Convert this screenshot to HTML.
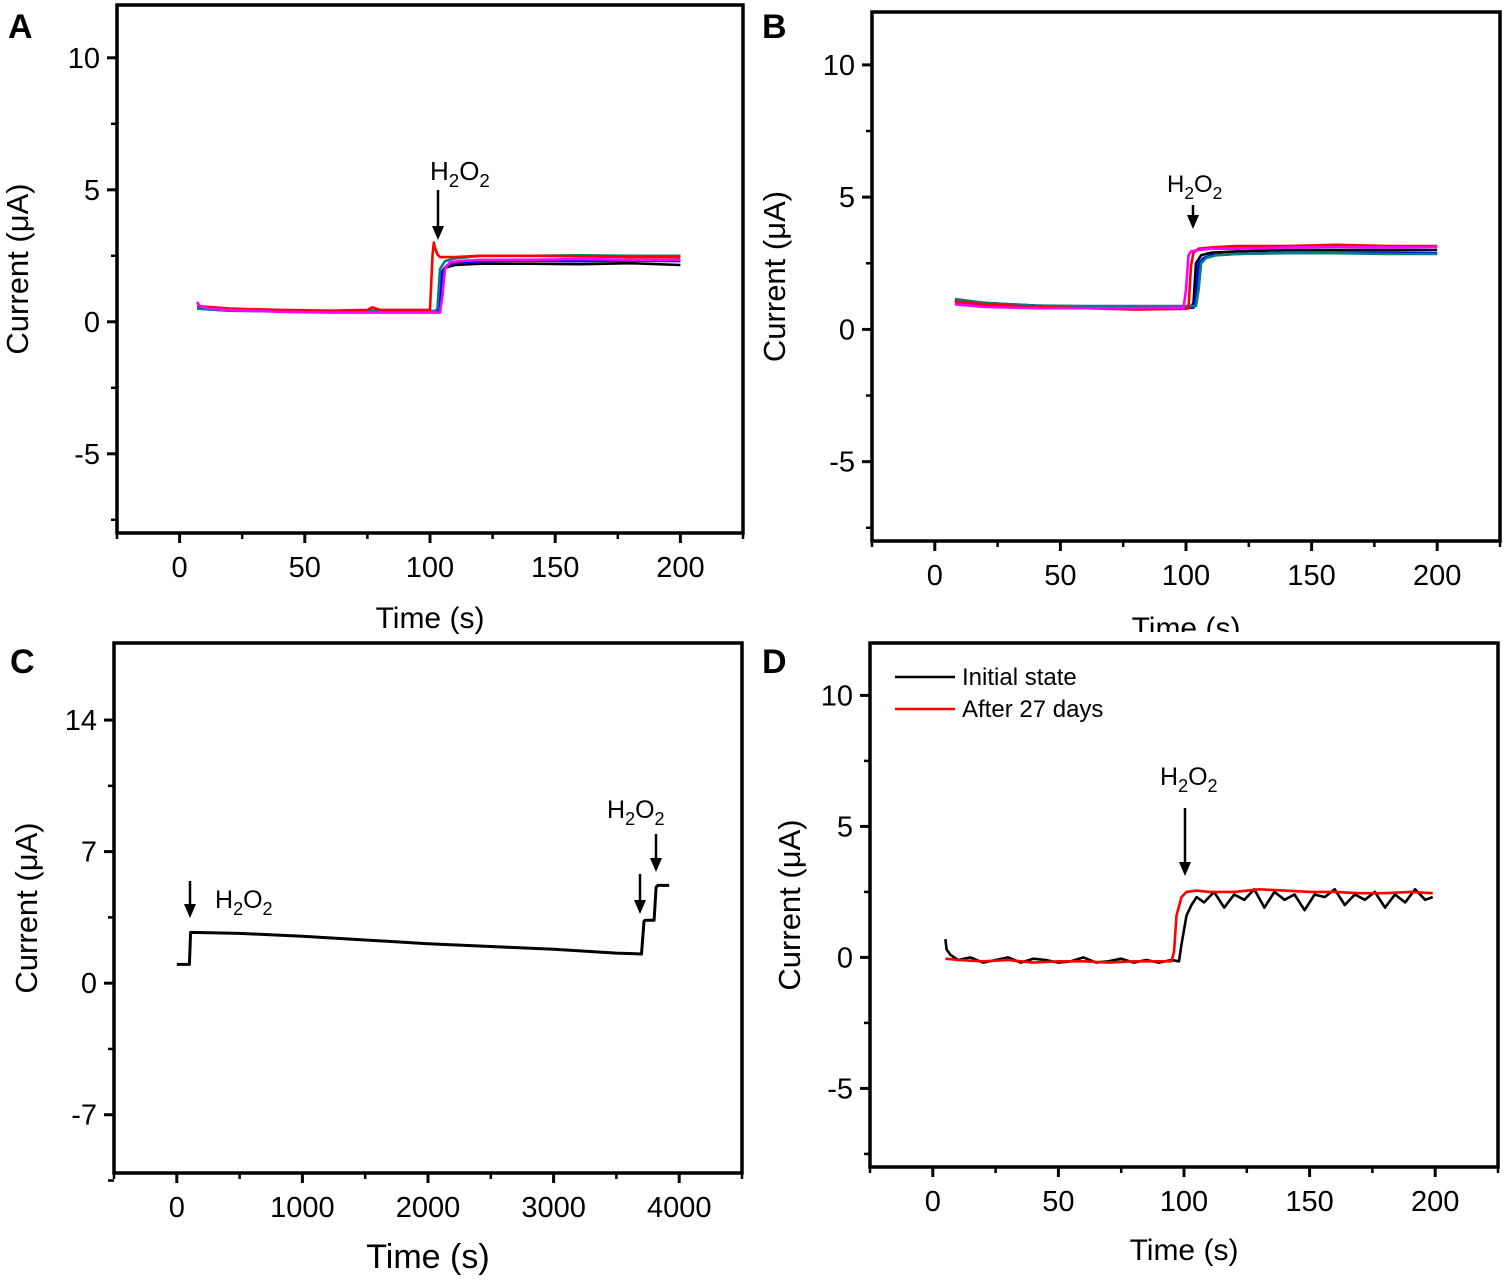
<!DOCTYPE html>
<html><head><meta charset="utf-8"><style>
body{margin:0;background:#fff}
svg{display:block;font-family:"Liberation Sans",Arial,sans-serif}
</style></head><body>
<svg id="fig" width="1505" height="1280" viewBox="0 0 1505 1280"></svg>
<script>
// ---------- data ----------
const aBlackT=[7,20,40,60,80,100,102,103,104,106,110,120,140,160,180,200];
const aBlackV=[0.55,0.45,0.42,0.4,0.42,0.4,0.4,0.45,1.8,2.05,2.15,2.2,2.2,2.18,2.22,2.15];
const aRedT=[7,20,40,60,75,77,80,100,101,101.5,102,103,104,106,110,120,140,160,180,200];
const aRedV=[0.6,0.5,0.45,0.42,0.45,0.55,0.45,0.45,2.5,3.0,2.8,2.55,2.45,2.45,2.45,2.5,2.5,2.48,2.45,2.45];
const aBlueT=[7,20,40,60,80,100,103,104,105,107,110,120,140,160,180,200];
const aBlueV=[0.5,0.42,0.4,0.4,0.38,0.38,0.38,0.45,1.9,2.15,2.25,2.3,2.32,2.3,2.32,2.3];
const aTealT=[7,20,40,60,80,100,102,103,104,106,110,120,140,160,180,200];
const aTealV=[0.5,0.42,0.4,0.4,0.4,0.4,0.4,0.5,2.0,2.3,2.4,2.5,2.5,2.52,2.5,2.5];
const aMagT=[7,8,12,20,40,60,80,100,104,105,106,108,112,120,140,160,180,200];
const aMagV=[0.75,0.6,0.5,0.45,0.38,0.35,0.35,0.35,0.35,1.0,2.0,2.25,2.3,2.35,2.35,2.38,2.35,2.35];
const bBlackT=[8,20,40,60,80,100,102,103,104,106,110,120,140,160,180,200];
const bBlackV=[1.1,1.0,0.9,0.85,0.85,0.85,0.85,1.0,2.5,2.8,2.9,2.95,3.0,3.0,3.0,3.0];
const bRedT=[8,20,40,60,80,100,101,102,103,105,110,120,140,160,180,200];
const bRedV=[1.05,0.95,0.85,0.8,0.75,0.78,0.8,2.4,2.9,3.05,3.1,3.15,3.15,3.2,3.15,3.15];
const bBlueT=[8,20,40,60,80,100,103,104,105,107,110,120,140,160,180,200];
const bBlueV=[1.0,0.9,0.85,0.82,0.82,0.82,0.82,1.2,2.5,2.7,2.8,2.85,2.9,2.9,2.9,2.88];
const bTealT=[8,20,40,60,80,100,104,105,106,108,112,120,140,160,180,200];
const bTealV=[1.15,1.0,0.9,0.88,0.88,0.88,0.88,1.5,2.5,2.7,2.8,2.85,2.88,2.88,2.85,2.85];
const bMagT=[8,20,40,60,80,99,100,101,102,105,110,120,140,160,180,200];
const bMagV=[0.95,0.85,0.8,0.8,0.8,0.82,1.5,2.8,2.95,3.0,3.05,3.05,3.1,3.12,3.1,3.12];
const cT=[0,100,110,500,1000,1500,2000,2500,3000,3500,3700,3720,3730,3800,3816,3830,3920];
const cV=[1.0,1.0,2.7,2.65,2.5,2.3,2.1,1.95,1.8,1.6,1.55,3.3,3.35,3.35,5.1,5.2,5.2];
const dBlackT=[5,5.5,7,10,15,20,25,30,35,40,45,50,55,60,65,70,75,80,85,90,95,98,99,101,103,105,108,112,116,120,124,128,132,136,140,144,148,152,156,160,164,168,172,176,180,184,188,192,196,199];
const dBlackV=[0.7,0.3,0.1,-0.1,0.0,-0.2,-0.1,0.0,-0.2,-0.05,-0.1,-0.2,-0.15,0.0,-0.2,-0.15,-0.05,-0.2,-0.1,-0.2,-0.1,-0.15,0.5,1.6,2.0,2.3,2.1,2.5,1.9,2.4,2.2,2.6,1.9,2.5,2.2,2.4,1.8,2.4,2.3,2.6,2.0,2.4,2.2,2.5,1.9,2.4,2.1,2.6,2.2,2.3];
const dRedT=[5,10,20,30,40,50,60,70,80,90,95,96,97,99,101,105,110,120,130,140,150,160,170,180,190,199];
const dRedV=[-0.05,-0.1,-0.15,-0.1,-0.2,-0.15,-0.15,-0.2,-0.15,-0.15,-0.15,0.2,1.6,2.3,2.5,2.55,2.5,2.5,2.6,2.55,2.5,2.5,2.45,2.45,2.5,2.45];

const NS="http://www.w3.org/2000/svg";
const svg=document.getElementById('fig');
function mk(tag,attrs,parent){const e=document.createElementNS(NS,tag);for(const k in attrs)e.setAttribute(k,attrs[k]);(parent||svg).appendChild(e);return e;}

function panel(p){
  const g=mk('g',{});
  
  
  const sx=v=>p.L+(v-p.x0)/(p.x1-p.x0)*(p.R-p.L);
  const sy=v=>p.B-(v-p.y0)/(p.y1-p.y0)*(p.B-p.T);
  p.series.forEach(s=>{
    const d=s.t.map((t,i)=>(i?'L':'M')+sx(t).toFixed(1)+','+sy(s.v[i]).toFixed(1)).join('');
    const el=mk('path',{d:d,fill:'none',stroke:s.c,'stroke-width':s.w||2.6,'stroke-linejoin':'round'},g);
    
    
  });
  const fr=mk('rect',{x:p.L,y:p.T,width:p.R-p.L,height:p.B-p.T,fill:'none',stroke:'#000','stroke-width':3.5},g);
  
  
  p.xt.forEach(v=>{const x=sx(v);mk('line',{x1:x,x2:x,y1:p.B,y2:p.B+10,stroke:'#000','stroke-width':3},g);
    const t=mk('text',{x:x,y:p.B+44,'font-size':p.tf||29,'text-anchor':'middle'},g);t.textContent=v;
    
    });
  p.xm.forEach(v=>{const x=sx(v);mk('line',{x1:x,x2:x,y1:p.B,y2:p.B+6,stroke:'#000','stroke-width':2.5},g);});
  p.yt.forEach(v=>{const y=sy(v);mk('line',{x1:p.L,x2:p.L-10,y1:y,y2:y,stroke:'#000','stroke-width':3},g);
    const t=mk('text',{x:p.L-17,y:y+10,'font-size':p.tf||29,'text-anchor':'end'},g);t.textContent=v;
    
    });
  p.ym.forEach(v=>{const y=sy(v);mk('line',{x1:p.L,x2:p.L-6,y1:y,y2:y,stroke:'#000','stroke-width':2.5},g);});
  const xt=mk('text',{x:(p.L+p.R)/2,y:p.xTy,'font-size':p.xTf||30,'text-anchor':'middle'},g);xt.textContent='Time (s)';
  
  
  const yt=mk('text',{x:0,y:0,'font-size':31,'text-anchor':'middle',transform:`translate(${p.yTx},${(p.T+p.B)/2}) rotate(-90)`},g);yt.textContent='Current (μA)';
  
  
  const lb=mk('text',{x:p.lx,y:p.ly,'font-size':34,'font-weight':'bold'},g);lb.textContent=p.label;
  
  
  return {g,sx,sy};
}
function h2o2(g,x,y,fs){
  const t=mk('text',{x:x,y:y,'font-size':fs||25},g);
  
  
  t.innerHTML='H<tspan dy="7" font-size="'+((fs||25)*0.72)+'">2</tspan><tspan dy="-7">O</tspan><tspan dy="7" font-size="'+((fs||25)*0.72)+'">2</tspan>';
}
function arrow(g,x,y1,y2){
  mk('line',{x1:x,x2:x,y1:y1,y2:y2-12,stroke:'#000','stroke-width':2.5},g);
  const a=mk('path',{d:`M${x-6},${y2-14}L${x+6},${y2-14}L${x},${y2}Z`,fill:'#000'},g);
  
  
}

const col={k:'#000',r:'#f00',b:'#00f',t:'#008080',m:'#f0f'};
const A=panel({name:'panel-a',label:'A',lx:8,ly:38,L:117,R:743,T:5,B:533,x0:-25,x1:225,y0:-8,y1:12,
  xt:[0,50,100,150,200],xm:[-25,25,75,125,175,225],yt:[10,5,0,-5],ym:[7.5,2.5,-2.5,-7.5],xTy:628,yTx:28,
  series:[{t:aBlackT,v:aBlackV,c:col.k,n:'series-black'},{t:aBlueT,v:aBlueV,c:col.b,n:'series-blue'},{t:aTealT,v:aTealV,c:col.t,n:'series-teal'},{t:aRedT,v:aRedV,c:col.r,n:'series-red'},{t:aMagT,v:aMagV,c:col.m,n:'series-magenta'}]});
h2o2(A.g,430,180,26);arrow(A.g,438,190,240);

const B=panel({name:'panel-b',label:'B',lx:762,ly:38,L:872,R:1500,T:12,B:541,x0:-25,x1:225,y0:-8,y1:12,
  xt:[0,50,100,150,200],xm:[-25,25,75,125,175,225],yt:[10,5,0,-5],ym:[7.5,2.5,-2.5,-7.5],xTy:638,yTx:785,
  series:[{t:bBlackT,v:bBlackV,c:col.k,n:'series-black'},{t:bBlueT,v:bBlueV,c:col.b,n:'series-blue'},{t:bTealT,v:bTealV,c:col.t,n:'series-teal'},{t:bRedT,v:bRedV,c:col.r,n:'series-red'},{t:bMagT,v:bMagV,c:col.m,n:'series-magenta'}]});
h2o2(B.g,1167,192,24);arrow(B.g,1193,205,229);
mk('rect',{x:860,y:632,width:645,height:12,fill:'#fff'});

const C=panel({name:'panel-c',label:'C',lx:10,ly:673,L:114,R:742,T:643,B:1173,x0:-500,x1:4500,y0:-10.1,y1:18.1,
  xt:[0,1000,2000,3000,4000],xm:[-500,500,1500,2500,3500,4500],yt:[14,7,0,-7],ym:[10.5,3.5,-3.5,-10.5],xTy:1268,xTf:34,yTx:37,
  series:[{t:cT,v:cV,c:col.k,n:'series-current',w:3}]});
h2o2(C.g,215,908,25);arrow(C.g,190,881,918);
h2o2(C.g,607,818,25);arrow(C.g,640,874,914);arrow(C.g,656,834,872);

const D=panel({name:'panel-d',label:'D',lx:762,ly:673,L:870,R:1498,T:643,B:1167,x0:-25,x1:225,y0:-8,y1:12,
  xt:[0,50,100,150,200],xm:[-25,25,75,125,175,225],yt:[10,5,0,-5],ym:[7.5,2.5,-2.5,-7.5],xTy:1260,yTx:800,
  series:[{t:dBlackT,v:dBlackV,c:col.k,n:'series-initial-state'},{t:dRedT,v:dRedV,c:col.r,n:'series-after-27-days'}]});
h2o2(D.g,1160,785,25);arrow(D.g,1185,808,876);
const lg=mk('g',{});


[['Initial state','#000',677],['After 27 days','#f00',709]].forEach(([t,c,y])=>{
  mk('line',{x1:895,x2:955,y1:y,y2:y,stroke:c,'stroke-width':2.6},lg);
  const e=mk('text',{x:962,y:y+8,'font-size':24},lg);e.textContent=t;
  
  
});
</script>
</body></html>
